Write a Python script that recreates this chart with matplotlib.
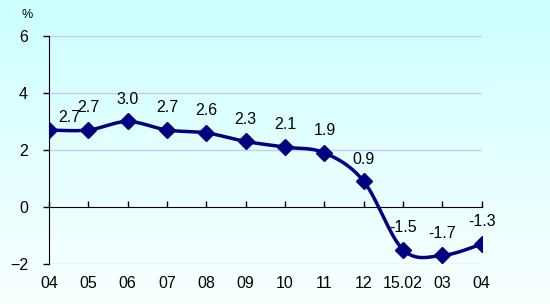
import matplotlib

matplotlib.use("Agg")
import matplotlib.pyplot as plt
import numpy as np
from matplotlib.colors import LinearSegmentedColormap

months = ["04", "05", "06", "07", "08", "09", "10", "11", "12", "15.02", "03", "04"]
values = [2.7, 2.7, 3.0, 2.7, 2.6, 2.3, 2.1, 1.9, 0.9, -1.5, -1.7, -1.3]
yticks = [-2, 0, 2, 4, 6]

plt.rcParams["font.family"] = ["Liberation Sans", "DejaVu Sans"]

x = np.arange(len(values), dtype=float)
y = np.array(values, dtype=float)


def smooth(xs, ys, n=30):
    # courbe lissee facon Excel (Catmull-Rom -> Bezier)
    px = np.concatenate([[xs[0]], xs, [xs[-1]]])
    py = np.concatenate([[ys[0]], ys, [ys[-1]]])
    ox, oy = [], []
    t = np.linspace(0, 1, n)
    for i in range(1, len(px) - 2):
        p0 = np.array([px[i], py[i]])
        p3 = np.array([px[i + 1], py[i + 1]])
        c1 = p0 + (np.array([px[i + 1], py[i + 1]]) - np.array([px[i - 1], py[i - 1]])) / 6
        c2 = p3 - (np.array([px[i + 2], py[i + 2]]) - np.array([px[i], py[i]])) / 6
        b = ((1 - t) ** 3)[:, None] * p0 + (3 * (1 - t) ** 2 * t)[:, None] * c1 \
            + (3 * (1 - t) * t ** 2)[:, None] * c2 + (t ** 3)[:, None] * p3
        ox.extend(b[:, 0])
        oy.extend(b[:, 1])
    return np.array(ox), np.array(oy)


fig = plt.figure(figsize=(5.5, 3.04), dpi=100)

# fond en degrade cyan -> blanc
bg = fig.add_axes([0, 0, 1, 1], zorder=-10)
cmap = LinearSegmentedColormap.from_list("bg", ["#CCFFFF", "#FAFFFF"])
bg.imshow(np.linspace(0, 1, 256)[:, None], aspect="auto", cmap=cmap,
          extent=[0, 1, 0, 1])
bg.axis("off")

ax = fig.add_axes([0.089, 0.1316, 0.787, 0.75])
ax.set_facecolor("none")
ax.set_xlim(0, len(values) - 1)
ax.set_ylim(-2, 6)

for v in yticks:
    if v != 0:
        ax.axhline(v, color="#C8C8FF", lw=1, zorder=1)

sx, sy = smooth(x, y)
ax.plot(sx, sy, color="#000080", lw=2.5, zorder=3)
ax.plot(x, y, "D", color="#000080", ms=8, zorder=4)

for i, (xi, yi) in enumerate(zip(x, y)):
    dx = 15 if i == 0 else 0
    dy = 9 if i == 0 else 16
    ax.annotate(f"{yi:.1f}", (xi, yi), xytext=(dx, dy), textcoords="offset points",
                ha="center", va="center", fontsize=11.5, zorder=5)

ax.spines["top"].set_visible(False)
ax.spines["right"].set_visible(False)
ax.spines["bottom"].set_visible(False)
ax.spines["left"].set_color("black")

ax.set_yticks(yticks)
ax.tick_params(axis="y", length=4, width=1, pad=11, labelsize=11.5)
ax.set_xticks(x)
ax.set_xticklabels(months)
ax.tick_params(axis="x", length=0, pad=9, labelsize=11.5)

# axe des abscisses a y=0 avec graduations vers le haut
sec = ax.secondary_xaxis(0.25)
sec.set_xticks(x)
sec.tick_params(axis="x", direction="in", length=4, width=1, labelbottom=False,
                labeltop=False)
sec.spines["bottom"].set_color("black")

fig.text(0.049, 0.952, "%", fontsize=9, ha="center", va="center")

fig.savefig("out.png", dpi=100)
